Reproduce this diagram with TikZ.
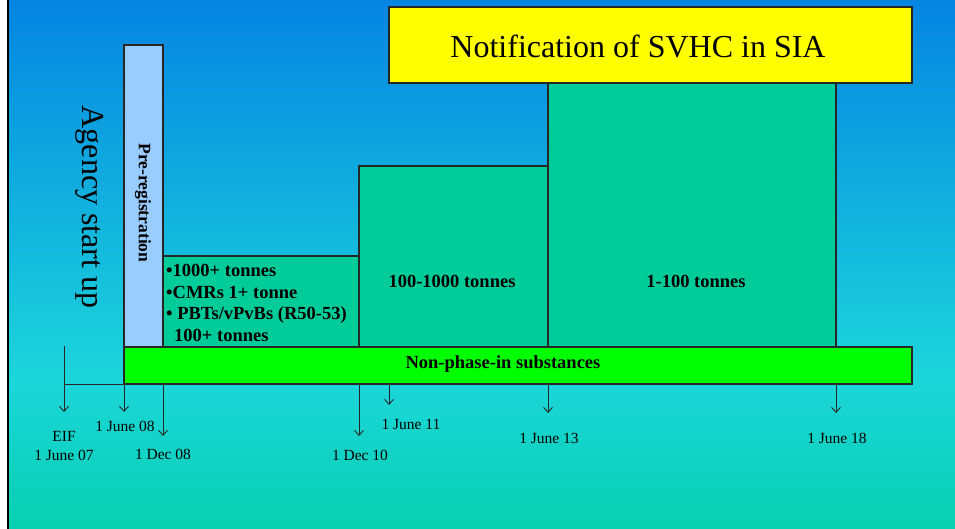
\documentclass[tikz,border=0pt]{standalone}
\usepackage{fontspec}
\setmainfont{Liberation Serif}
\usetikzlibrary{arrows.meta}

\definecolor{bgtop}{RGB}{5,133,226}
\definecolor{bgmid}{RGB}{28,214,218}
\definecolor{bgbot}{RGB}{6,208,176}
\definecolor{preblue}{RGB}{153,204,255}
\definecolor{tonfill}{RGB}{0,204,153}
\definecolor{nonphase}{RGB}{0,255,0}
\definecolor{svhc}{RGB}{255,255,0}

\begin{document}
\begin{tikzpicture}[x=1pt, y=-1pt, >={Straight Barb[length=5pt,width=9pt]}]

% styles
\tikzset{
  phase/.style={draw=black!85, line width=1.2pt, inner sep=0pt, outer sep=0pt, anchor=north west},
  tick/.style={->, line width=0.9pt, draw=black!85},
  datelabel/.style={inner sep=0pt, font=\fontsize{15.5}{19}\selectfont},
  boldlabel/.style={inner sep=0pt, font=\fontsize{18.5}{21.7}\selectfont\bfseries},
  biglabel/.style={inner sep=0pt, font=\fontsize{32}{36}\selectfont},
}

% slide background
\useasboundingbox (0,0) rectangle (955,529);
\shade[top color=bgtop, bottom color=bgmid] (0,0) rectangle (955,380);
\shade[top color=bgmid, bottom color=bgbot] (0,380) rectangle (955,529);
\fill[white] (0,0) rectangle (7,529);
\draw[line width=2pt] (8,0) -- (8,529);

% phases
\node[phase, fill=preblue, minimum width=39pt, minimum height=302pt] (prereg) at (124,45) {};
\node[phase, fill=tonfill, minimum width=196pt, minimum height=91pt] (ton1000) at (163,256) {};
\node[phase, fill=tonfill, minimum width=189pt, minimum height=181pt] (ton100) at (359,166) {};
\node[phase, fill=tonfill, minimum width=288pt, minimum height=264pt] (ton1) at (548,83) {};
\node[phase, fill=svhc, minimum width=523pt, minimum height=76pt] (sia) at (389,7) {};
\node[phase, fill=nonphase, minimum width=788pt, minimum height=37pt] (nonph) at (124,347) {};

% texts in the phases
\node[biglabel] (siatext) at (638,46) {Notification of SVHC in SIA};
\node[biglabel, rotate=-90] (agency) at (90,207) {Agency start up};
\node[inner sep=0pt, rotate=-90, font=\fontsize{17.5}{20}\selectfont\bfseries] (pretext) at (143,203) {Pre-registration};
\node[boldlabel, align=left, anchor=west] (ton1000text) at (166,303)
  {\textbullet1000+ tonnes\\\textbullet CMRs 1+ tonne\\\textbullet\ PBTs/vPvBs (R50-53)\\\hspace{8pt}100+ tonnes};
\node[boldlabel] (ton100text) at (452,281) {100-1000 tonnes};
\node[boldlabel] (ton1text) at (696,281) {1-100 tonnes};
\node[boldlabel] (nonphtext) at (503,364) {Non-phase-in substances};

% timeline
\coordinate (eifTop) at (64,346);
\coordinate (knee) at (64,384);
\coordinate (eifTip) at (64,412);
\coordinate (jun08Tip) at (124,412);
\coordinate (dec08Tip) at (163,436);
\coordinate (dec10Tip) at (359,436);
\coordinate (jun11Tip) at (389,405);
\coordinate (jun13Tip) at (548,413);
\coordinate (jun18Tip) at (836,413);

\draw[tick] (eifTop) -- (eifTip);
\draw[line width=0.9pt, draw=black!85] (knee) -- (nonph.south west);
\draw[tick] (nonph.south west) -- (jun08Tip);
\draw[tick] (ton1000.south west |- nonph.south) -- (dec08Tip);
\draw[tick] (ton100.south west |- nonph.south) -- (dec10Tip);
\draw[tick] (sia.south west |- nonph.south) -- (jun11Tip);
\draw[tick] (ton1.south west |- nonph.south) -- (jun13Tip);
\draw[tick] (ton1.south east |- nonph.south) -- (jun18Tip);

% dates
\node[datelabel, align=center] (eif) at (64,446) {EIF\\1 June 07};
\node[datelabel] (jun08) at (125,426) {1 June 08};
\node[datelabel] (dec08) at (163,454) {1 Dec 08};
\node[datelabel] (dec10) at (360,455) {1 Dec 10};
\node[datelabel] (jun11) at (411,424) {1 June 11};
\node[datelabel] (jun13) at (549,438) {1 June 13};
\node[datelabel] (jun18) at (837,438) {1 June 18};

\end{tikzpicture}
\end{document}
